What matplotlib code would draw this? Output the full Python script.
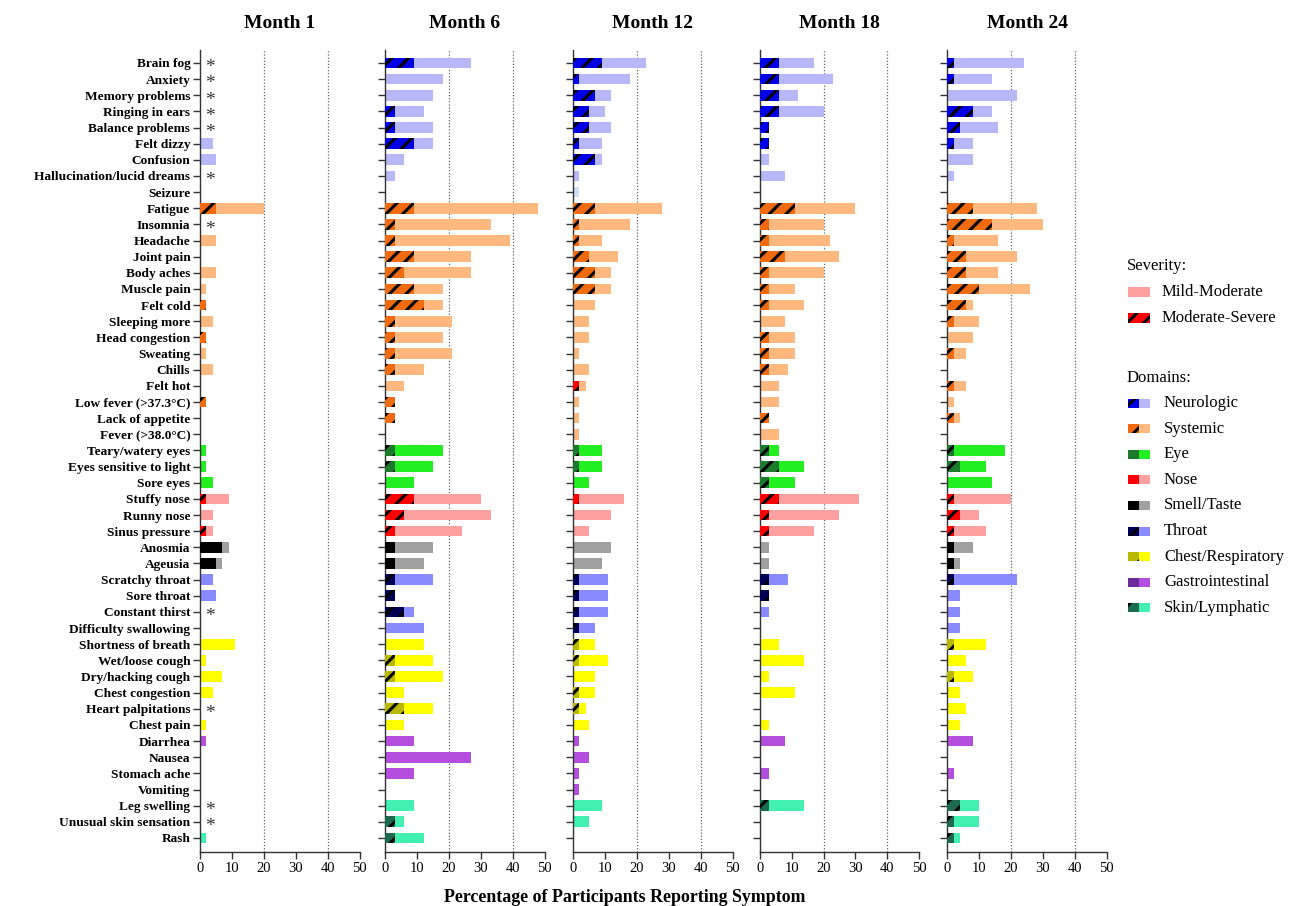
import matplotlib
matplotlib.use("Agg")
import matplotlib.pyplot as plt
from matplotlib.patches import Rectangle

plt.rcParams['font.family'] = ['Liberation Serif', 'DejaVu Serif']
plt.rcParams['hatch.linewidth'] = 2.2
plt.rcParams['hatch.color'] = 'black'

# ---------------------------------------------------------------- data
symptoms = [
    "Brain fog", "Anxiety", "Memory problems", "Ringing in ears", "Balance problems",
    "Felt dizzy", "Confusion", "Hallucination/lucid dreams", "Seizure",
    "Fatigue", "Insomnia", "Headache", "Joint pain", "Body aches", "Muscle pain",
    "Felt cold", "Sleeping more", "Head congestion", "Sweating", "Chills", "Felt hot",
    "Low fever (>37.3°C)", "Lack of appetite", "Fever (>38.0°C)",
    "Teary/watery eyes", "Eyes sensitive to light", "Sore eyes",
    "Stuffy nose", "Runny nose", "Sinus pressure",
    "Anosmia", "Ageusia",
    "Scratchy throat", "Sore throat", "Constant thirst", "Difficulty swallowing",
    "Shortness of breath", "Wet/loose cough", "Dry/hacking cough", "Chest congestion",
    "Heart palpitations", "Chest pain",
    "Diarrhea", "Nausea", "Stomach ache", "Vomiting",
    "Leg swelling", "Unusual skin sensation", "Rash",
]

domain_names = ["Neurologic", "Systemic", "Eye", "Nose", "Smell/Taste", "Throat",
                "Chest/Respiratory", "Gastrointestinal", "Skin/Lymphatic"]
domain_sizes = [9, 15, 3, 3, 2, 4, 6, 4, 3]

months = ["Month 1", "Month 6", "Month 12", "Month 18", "Month 24"]

# percentage reporting the symptom (any severity)
total_m1 = [0, 0, 0, 0, 0, 4, 5, 0, 0,
            20, 0, 5, 0, 5, 2, 2, 4, 2, 2, 4, 0, 2, 0, 0,
            2, 2, 4,
            9, 4, 4,
            9, 7,
            4, 5, 0, 0,
            11, 2, 7, 4, 0, 2,
            2, 0, 0, 0,
            0, 0, 2]
total_m6 = [27, 18, 15, 12, 15, 15, 6, 3, 0,
            48, 33, 39, 27, 27, 18, 18, 21, 18, 21, 12, 6, 3, 3, 0,
            18, 15, 9,
            30, 33, 24,
            15, 12,
            15, 3, 9, 12,
            12, 15, 18, 6, 15, 6,
            9, 27, 9, 0,
            9, 6, 12]
total_m12 = [23, 18, 12, 10, 12, 9, 9, 2, 2,
             28, 18, 9, 14, 12, 12, 7, 5, 5, 2, 5, 4, 2, 2, 2,
             9, 9, 5,
             16, 12, 5,
             12, 9,
             11, 11, 11, 7,
             7, 11, 7, 7, 4, 5,
             2, 5, 2, 2,
             9, 5, 0]
total_m18 = [17, 23, 12, 20, 3, 3, 3, 8, 0,
             30, 20, 22, 25, 20, 11, 14, 8, 11, 11, 9, 6, 6, 3, 6,
             6, 14, 11,
             31, 25, 17,
             3, 3,
             9, 3, 3, 0,
             6, 14, 3, 11, 0, 3,
             8, 0, 3, 0,
             14, 0, 0]
total_m24 = [24, 14, 22, 14, 16, 8, 8, 2, 0,
             28, 30, 16, 22, 16, 26, 8, 10, 8, 6, 0, 6, 2, 4, 0,
             18, 12, 14,
             20, 10, 12,
             8, 4,
             22, 4, 4, 4,
             12, 6, 8, 4, 6, 4,
             8, 0, 2, 0,
             10, 10, 4]

# percentage reporting the symptom as moderate-severe
severe_m1 = [0, 0, 0, 0, 0, 0, 0, 0, 0,
             5, 0, 0, 0, 0, 0, 2, 0, 2, 0, 0, 0, 2, 0, 0,
             0, 0, 0,
             2, 0, 2,
             7, 5,
             0, 0, 0, 0,
             0, 0, 0, 0, 0, 0,
             0, 0, 0, 0,
             0, 0, 0]
severe_m6 = [9, 0, 0, 3, 3, 9, 0, 0, 0,
             9, 3, 3, 9, 6, 9, 12, 3, 3, 3, 3, 0, 3, 3, 0,
             3, 3, 0,
             9, 6, 3,
             3, 3,
             3, 3, 6, 0,
             0, 3, 3, 0, 6, 0,
             0, 0, 0, 0,
             0, 3, 3]
severe_m12 = [9, 2, 7, 5, 5, 2, 7, 0, 0,
              7, 2, 2, 5, 7, 7, 0, 0, 0, 0, 0, 2, 0, 0, 0,
              2, 2, 0,
              2, 0, 0,
              0, 0,
              2, 2, 2, 2,
              2, 2, 0, 2, 2, 0,
              0, 0, 0, 0,
              0, 0, 0]
severe_m18 = [6, 6, 6, 6, 3, 3, 0, 0, 0,
              11, 3, 3, 8, 3, 3, 3, 0, 3, 3, 3, 0, 0, 3, 0,
              3, 6, 3,
              6, 3, 3,
              0, 0,
              3, 3, 0, 0,
              0, 0, 0, 0, 0, 0,
              0, 0, 0, 0,
              3, 0, 0]
severe_m24 = [2, 2, 0, 8, 4, 2, 0, 0, 0,
              8, 14, 2, 6, 6, 10, 6, 2, 0, 2, 0, 2, 0, 2, 0,
              2, 4, 0,
              2, 4, 2,
              2, 2,
              2, 0, 0, 0,
              2, 0, 2, 0, 0, 0,
              0, 0, 0, 0,
              4, 2, 2]

# symptoms flagged with an asterisk at Month 1
asterisk_m1 = ["Brain fog", "Anxiety", "Memory problems", "Ringing in ears",
               "Balance problems", "Hallucination/lucid dreams", "Insomnia",
               "Constant thirst", "Heart palpitations", "Leg swelling",
               "Unusual skin sensation"]

totals = [total_m1, total_m6, total_m12, total_m18, total_m24]
severes = [severe_m1, severe_m6, severe_m12, severe_m18, severe_m24]

# ---------------------------------------------------------------- styling
dark_colors = ["#0000e6", "#f06a10", "#1c7a2c", "#ff0000", "#000000",
               "#000055", "#b8b800", "#6c2c9c", "#1c6a52"]
light_colors = ["#b8b8f8", "#ffb97f", "#22ee22", "#ffa0a0", "#a0a0a0",
                "#8a8aff", "#ffff00", "#b44ede", "#42f0b2"]

sym_domain = []
for d, n in enumerate(domain_sizes):
    sym_domain += [d] * n

# individual bar colour exceptions
light_override = {("Month 12", "Seizure"): "#cfe0f6"}
dark_override = {("Month 12", "Felt hot"): "#ff0000"}

W, H = 1297, 906
fig = plt.figure(figsize=(W / 100, H / 100), dpi=100)

panel_left = [200, 385.3, 573, 759.7, 947.3]
panel_w = 159.5
top_px, bottom_px = 50, 852

n = len(symptoms)
ypos = list(range(n))
bar_h = 0.66

for k, month in enumerate(months):
    ax = fig.add_axes([panel_left[k] / W, (H - bottom_px) / H,
                       panel_w / W, (bottom_px - top_px) / H])
    for g in (20, 40):
        ax.axvline(g, color="#666666", lw=0.9, ls=(0, (1, 1.5)), zorder=0)
    lc = []
    dc = []
    for i, s in enumerate(symptoms):
        lc.append(light_override.get((month, s), light_colors[sym_domain[i]]))
        dc.append(dark_override.get((month, s), dark_colors[sym_domain[i]]))
    ax.barh(ypos, totals[k], height=bar_h, color=lc, linewidth=0, zorder=2)
    ax.barh(ypos, severes[k], height=bar_h, color=dc, edgecolor="black",
            linewidth=0, hatch="//", zorder=3)

    ax.set_xlim(0, 50)
    ax.set_ylim(n - 1 + 0.87, -0.8)
    ax.set_xticks([0, 10, 20, 30, 40, 50])
    ax.set_yticks(ypos)
    for sp in ("top", "right"):
        ax.spines[sp].set_visible(False)
    for sp in ("left", "bottom"):
        ax.spines[sp].set_color("#333333")
        ax.spines[sp].set_linewidth(1.0)
    ax.tick_params(axis="both", direction="out", length=5, width=1,
                   color="#333333", labelsize=10.5, pad=2)
    if k == 0:
        ax.set_yticklabels(symptoms, fontweight="bold", fontsize=9.6)
        for s in asterisk_m1:
            ax.text(3, symptoms.index(s) + 0.3, "*", ha="center", va="center",
                    fontsize=14, color="#333333")
    else:
        ax.set_yticklabels([])
    ax.set_title(month, fontsize=14, fontweight="bold", pad=16)

fig.text(625 / W, 1 - 897 / H, "Percentage of Participants Reporting Symptom",
         ha="center", va="center", fontsize=12.9, fontweight="bold")

# ---------------------------------------------------------------- legend
lg = fig.add_axes([0, 0, 1, 1])
lg.set_xlim(0, W)
lg.set_ylim(H, 0)
lg.axis("off")

fs = 12
lg.text(1127, 266, "Severity:", fontsize=fs, va="center", ha="left")
lg.add_patch(Rectangle((1128, 287), 22, 10, facecolor="#ffa0a0", linewidth=0))
lg.text(1162, 292, "Mild-Moderate", fontsize=fs, va="center", ha="left")
lg.add_patch(Rectangle((1128, 313), 22, 10, facecolor="#ff0000",
                       edgecolor="black", linewidth=0, hatch="//"))
lg.text(1162, 318, "Moderate-Severe", fontsize=fs, va="center", ha="left")

lg.text(1127, 378, "Domains:", fontsize=fs, va="center", ha="left")
for d, name in enumerate(domain_names):
    yc = 403 + d * 25.6
    lg.add_patch(Rectangle((1128, yc - 4.5), 11, 9, facecolor=dark_colors[d],
                           edgecolor="black", linewidth=0, hatch="/"))
    lg.add_patch(Rectangle((1139, yc - 4.5), 11, 9, facecolor=light_colors[d],
                           linewidth=0))
    lg.text(1164, yc, name, fontsize=fs, va="center", ha="left")

fig.savefig("out.png", dpi=100)
